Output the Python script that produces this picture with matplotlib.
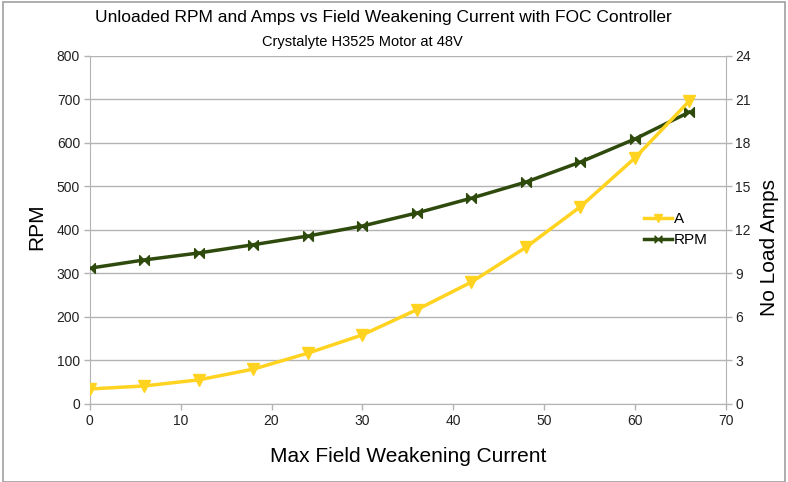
import matplotlib
matplotlib.use("Agg")
import matplotlib.pyplot as plt
from matplotlib.path import Path
from matplotlib.patches import Rectangle

plt.rcParams['font.family'] = ['Liberation Sans', 'DejaVu Sans']

# data
field_current = [0, 6, 12, 18, 24, 30, 36, 42, 48, 54, 60, 66]
rpm = [312, 331, 347, 366, 386, 409, 439, 473, 510, 556, 609, 671]
amps = [1.03, 1.24, 1.66, 2.4, 3.5, 4.76, 6.5, 8.4, 10.8, 13.6, 16.96, 20.9]

x_ticks = [0, 10, 20, 30, 40, 50, 60, 70]
rpm_ticks = [0, 100, 200, 300, 400, 500, 600, 700, 800]
amp_ticks = [0, 3, 6, 9, 12, 15, 18, 21, 24]

yellow = '#FFD320'
green = '#2E4A0C'
grid_c = '#B3B3B3'

# bowtie marker: two triangles meeting at the centre
bowtie = Path([(-1, -1), (0, 0), (-1, 1), (-1, -1), (1, -1), (0, 0), (1, 1), (1, -1)],
              [Path.MOVETO, Path.LINETO, Path.LINETO, Path.CLOSEPOLY,
               Path.MOVETO, Path.LINETO, Path.LINETO, Path.CLOSEPOLY])

fig = plt.figure(figsize=(7.88, 4.82), dpi=100)
fig.patches.append(Rectangle((0.004, 0.0), 0.992, 0.996, transform=fig.transFigure,
                             fill=False, edgecolor='#A0A0A0', linewidth=1.2))
ax = fig.add_axes([0.114, 0.162, 0.807, 0.722])
ax2 = ax.twinx()

ax.set_xlim(0, 70)
ax.set_ylim(0, 800)
ax2.set_ylim(0, 24)
ax.set_xticks(x_ticks)
ax.set_yticks(rpm_ticks)
ax2.set_yticks(amp_ticks)

ax.grid(axis='y', color=grid_c, linewidth=1)
ax.set_axisbelow(True)
for a in (ax, ax2):
    for s in a.spines.values():
        s.set_visible(False)
    a.tick_params(labelsize=10, color=grid_c, labelcolor='#222222', length=4, width=1, pad=3)
ax.spines['left'].set_visible(True)
ax.spines['left'].set_color(grid_c)
ax.spines['bottom'].set_visible(True)
ax.spines['bottom'].set_color(grid_c)
ax2.spines['right'].set_visible(True)
ax2.spines['right'].set_color(grid_c)

l_amp, = ax2.plot(field_current, amps, color=yellow, linewidth=2.5, marker='v',
                  markersize=9, label='A', zorder=3)
l_rpm, = ax.plot(field_current, rpm, color=green, linewidth=2.5, marker=bowtie,
                 markersize=7, label='RPM', zorder=3)

ax.set_xlabel('Max Field Weakening Current', fontsize=15, labelpad=14)
ax.set_ylabel('RPM', fontsize=15)
ax2.set_ylabel('No Load Amps', fontsize=15)
ax.yaxis.set_label_coords(-0.069, 0.51)
ax2.yaxis.set_label_coords(1.054, 0.45)

fig.text(0.486, 0.963, 'Unloaded RPM and Amps vs Field Weakening Current with FOC Controller',
         ha='center', va='center', fontsize=12.5)
fig.text(0.46, 0.913, 'Crystalyte H3525 Motor at 48V', ha='center', va='center', fontsize=10.5)

ax.legend([l_amp, l_rpm], ['A', 'RPM'], loc='center left', bbox_to_anchor=(0.85, 0.5),
          frameon=False, fontsize=11, handlelength=1.8, handletextpad=0.15,
          labelspacing=0.45, markerscale=0.7)

fig.savefig('out.png', dpi=100)
